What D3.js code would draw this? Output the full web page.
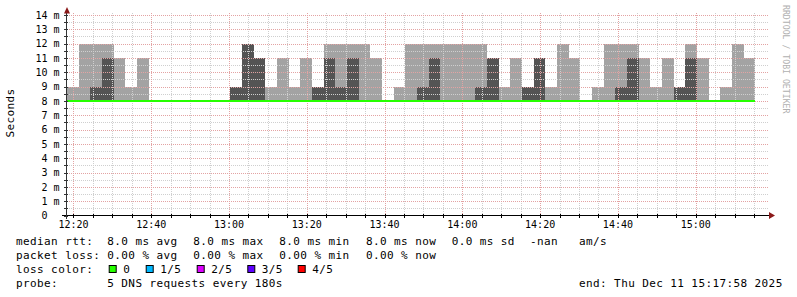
<!DOCTYPE html>
<html><head><meta charset="utf-8">
<script src="https://cdn.jsdelivr.net/npm/d3@7"></script>
<style>
html,body{margin:0;padding:0;background:#fff;}
svg{display:block;}
text{font-family:"DejaVu Sans Mono",monospace;white-space:pre;}
</style></head><body>
<svg id="chart" width="797" height="297"></svg>
<script>
// ---- data (milliseconds) ----
const firstSample = new Date(2025, 11, 11, 12, 18, 20);
const stepSeconds = 180;
const rangeHours = 3;
const median = [8,8,8,8,8,8,8,8,8,8,8,8,8,8,8,8,8,8,8,8,8,8,8,8,8,8,8,8,8,8,
                8,8,8,8,8,8,8,8,8,8,8,8,8,8,8,8,8,8,8,8,8,8,8,8,8,8,8,8,8];
const smokeOuter = [9,12,12,12,11,9,11,8,8,8,8,8,8,8,9,12,11,9,11,9,11,9,12,12,12,12,11,8,9,12,
                    12,12,12,12,12,12,11,9,11,9,11,9,12,11,8,9,12,12,12,11,9,11,9,12,11,8,9,12,11];
const smokeInner = [8,8,9,11,8,8,8,8,8,8,8,8,8,8,9,12,11,8,8,8,8,9,11,9,11,8,8,8,8,8,
                    9,11,8,8,8,9,11,8,8,9,11,8,8,8,8,8,8,9,11,8,8,8,9,11,8,8,8,8,8];
const yTicks = [0,1,2,3,4,5,6,7,8,9,10,11,12,13,14];
const lossLabels = ["0","1/5","2/5","3/5","4/5"];
const lossColors = ["#26ff00","#00b8ff","#dd00ff","#5e00ff","#ff0000"];
const legendRtt = ["median rtt:","8.0 ms avg","8.0 ms max","8.0 ms min","8.0 ms now","0.0 ms sd","-nan","am/s"];
const legendLoss = ["packet loss:","0.00 % avg","0.00 % max","0.00 % min","0.00 % now"];
const probeText = ["probe:","5 DNS requests every 180s"];
const endText = "end: Thu Dec 11 15:17:58 2025";

// ---- layout ----
const svg = d3.select("#chart");
const X0 = 67, X1 = 767, Y0 = 215.5, Y1 = 15;
const start = firstSample;
const end = new Date(start.getTime() + rangeHours*3600e3);
const x = d3.scaleTime().domain([start, end]).range([X0, X1]);
const y = d3.scaleLinear().domain([0, 14]).range([Y0, Y1]);
const tAt = i => new Date(start.getTime() + i*stepSeconds*1000);
const cols = median.map((m,i)=>({t0:tAt(i), t1:tAt(i+1), m, o:smokeOuter[i], n:smokeInner[i]}));

svg.append("rect").attr("width",797).attr("height",297).attr("fill","#fff");

// smoke
const g = svg.append("g").attr("shape-rendering","crispEdges");
g.selectAll("rect.outer").data(cols.filter(d=>d.o>d.m)).join("rect")
  .attr("x",d=>Math.round(x(d.t0))).attr("width",d=>Math.round(x(d.t1))-Math.round(x(d.t0)))
  .attr("y",d=>Math.round(y(d.o))).attr("height",d=>Math.round(y(d.m))-Math.round(y(d.o)))
  .attr("fill","#a3a3a3");
g.selectAll("rect.inner").data(cols.filter(d=>d.n>d.m)).join("rect")
  .attr("x",d=>Math.round(x(d.t0))).attr("width",d=>Math.round(x(d.t1))-Math.round(x(d.t0)))
  .attr("y",d=>Math.round(y(d.n))).attr("height",d=>Math.round(y(d.m))-Math.round(y(d.n)))
  .attr("fill","#545454");

// grid
const grid = svg.append("g").attr("shape-rendering","crispEdges");
const minorY = d3.range(0.5, 14, 1);
grid.selectAll("line.hmin").data(minorY).join("line")
  .attr("x1",X0).attr("x2",X1+2).attr("y1",d=>Math.round(y(d))+0.5).attr("y2",d=>Math.round(y(d))+0.5)
  .attr("stroke","#cfcfcf").attr("stroke-dasharray","1,1");
const minorT = d3.timeMinute.every(5).range(start, end).filter(t=>t.getMinutes()%20!==0);
grid.selectAll("line.vmin").data(minorT).join("line")
  .attr("x1",d=>Math.round(x(d))+0.5).attr("x2",d=>Math.round(x(d))+0.5).attr("y1",Y0).attr("y2",Y1-2)
  .attr("stroke","#cfcfcf").attr("stroke-dasharray","1,1");
grid.selectAll("line.hmaj").data(yTicks.slice(1)).join("line")
  .attr("x1",X0).attr("x2",X1+2).attr("y1",d=>Math.round(y(d))+0.5).attr("y2",d=>Math.round(y(d))+0.5)
  .attr("stroke","#e3a3a3").attr("stroke-dasharray","1,1");
const majorT = d3.timeMinute.every(20).range(start, end);
grid.selectAll("line.vmaj").data(majorT).join("line")
  .attr("x1",d=>Math.round(x(d))+0.5).attr("x2",d=>Math.round(x(d))+0.5).attr("y1",Y0).attr("y2",Y1-2)
  .attr("stroke","#e3a3a3").attr("stroke-dasharray","1,1");

// median line
const line = d3.line().x(d=>x(d.t)).y(d=>y(d.v)).curve(d3.curveStepAfter);
const medPts = cols.map(d=>({t:d.t0,v:d.m})).concat([{t:cols[cols.length-1].t1, v:median[median.length-1]}]);
svg.append("path").attr("d",line(medPts)).attr("fill","none")
  .attr("stroke",lossColors[0]).attr("stroke-width",2).attr("shape-rendering","crispEdges");

// axes
const ax = svg.append("g").attr("shape-rendering","crispEdges");
ax.append("line").attr("x1",62).attr("x2",770).attr("y1",Y0).attr("y2",Y0).attr("stroke","#000");
ax.append("line").attr("x1",X0-0.5).attr("x2",X0-0.5).attr("y1",219).attr("y2",11).attr("stroke","#333");
ax.selectAll("line.yt").data(yTicks.concat(minorY)).join("line")
  .attr("x1",X0-3).attr("x2",X0+1).attr("y1",d=>Math.round(y(d))+0.5).attr("y2",d=>Math.round(y(d))+0.5)
  .attr("stroke","#333");
ax.selectAll("line.xt").data(majorT.concat(minorT)).join("line")
  .attr("x1",d=>Math.round(x(d))+0.5).attr("x2",d=>Math.round(x(d))+0.5).attr("y1",Y0-2).attr("y2",Y0+2)
  .attr("stroke","#000");
svg.append("path").attr("d","M64,13.5 L70,13.5 L67,7 Z").attr("fill","#8b1a1a");
svg.append("path").attr("d","M769,212 L769,219 L775,215.5 Z").attr("fill","#8b1a1a");

// axis labels
svg.selectAll("text.yl").data(yTicks).join("text")
  .attr("x",59.5).attr("y",d=>y(d)+3.8).attr("text-anchor","end")
  .attr("font-size",10).attr("fill","#000")
  .text(d=>d===0?"0  ":d+" m");
svg.selectAll("text.xl").data(majorT).join("text")
  .attr("x",d=>x(d)).attr("y",228).attr("text-anchor","middle")
  .attr("font-size",10).attr("fill","#000")
  .text(d=>d3.timeFormat("%H:%M")(d));

svg.append("text").attr("transform","translate(14,113) rotate(-90)").attr("text-anchor","middle")
  .attr("font-size",11).attr("letter-spacing",0.4).text("Seconds");
svg.append("text").attr("transform","translate(783,5) rotate(90)").attr("text-anchor","start")
  .attr("font-size",8.2).attr("fill","#b0b0b0").text("RRDTOOL / TOBI OETIKER");

// legend
const lg = svg.append("g").attr("font-size",11).attr("letter-spacing",0.4).attr("fill","#000");
const rttX = [16,107.3,193.3,279.3,366,451.7,530,579];
legendRtt.forEach((s,i)=>lg.append("text").attr("x",rttX[i]).attr("y",245).text(s));
const lossX = [16,107.3,193.3,279.3,366];
legendLoss.forEach((s,i)=>lg.append("text").attr("x",lossX[i]).attr("y",259).text(s));
lg.append("text").attr("x",16).attr("y",273.3).text("loss color:");
const boxX = [108.7,145.7,196.7,247.3,297.7];
lossLabels.forEach((s,i)=>{
  lg.append("rect").attr("x",boxX[i]+0.5).attr("y",265.5).attr("width",7).attr("height",7)
    .attr("fill",lossColors[i]).attr("stroke","#000").attr("stroke-width",1);
  lg.append("text").attr("x",boxX[i]+14.5).attr("y",273.3).text(s);
});
lg.append("text").attr("x",16).attr("y",287.3).text(probeText[0]);
lg.append("text").attr("x",107.3).attr("y",287.3).text(probeText[1]);
lg.append("text").attr("x",579).attr("y",287.3).text(endText);
</script>
</body></html>
